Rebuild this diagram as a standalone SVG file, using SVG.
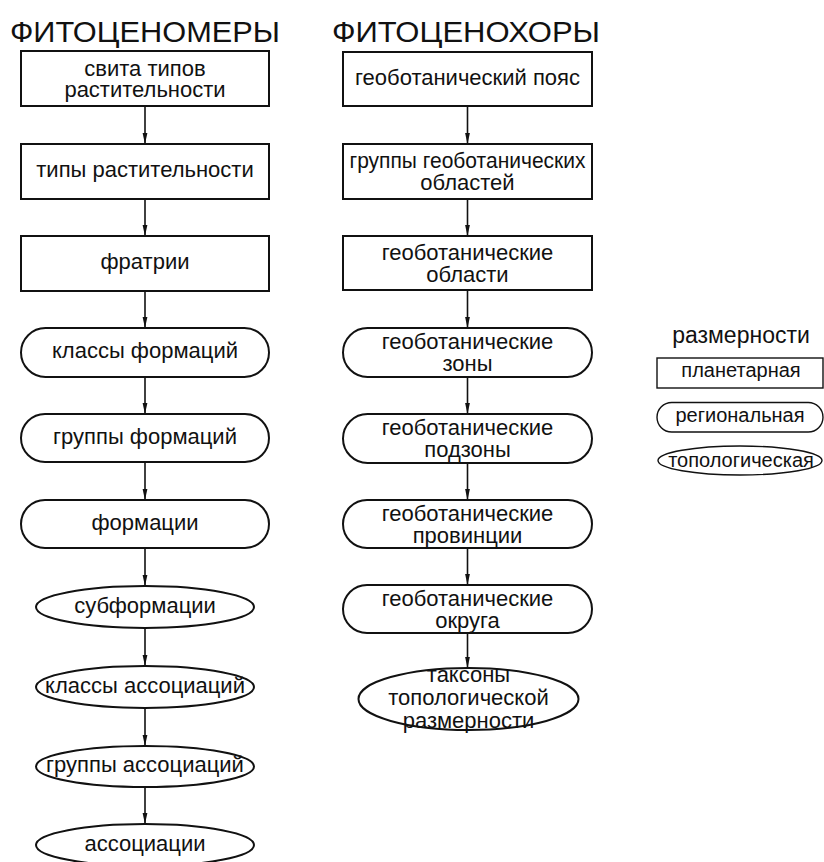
<svg xmlns="http://www.w3.org/2000/svg" width="824" height="862" viewBox="0 0 824 862">
<style>
text{font-family:"Liberation Sans",Arial,sans-serif;fill:#111;text-anchor:middle}
.n{font-size:22px}
.h{font-size:30px;text-anchor:start}
.lg{font-size:20px}
.s{fill:#fff;stroke:#111;stroke-width:2}
.sl{fill:#fff;stroke:#111;stroke-width:1.4}
.c{stroke:#111;stroke-width:1.6;fill:none;marker-end:url(#ah)}
</style>
<defs>
<marker id="ah" markerUnits="userSpaceOnUse" markerWidth="11" markerHeight="6" refX="11" refY="3" orient="auto" viewBox="0 0 11 6">
<path d="M0,0.6 L11,3 L0,5.4 Z" fill="#111"/>
</marker>
</defs>
<rect width="824" height="862" fill="#fff"/>
<text class="h" x="10" y="42" textLength="270" lengthAdjust="spacingAndGlyphs">ФИТОЦЕНОМЕРЫ</text>
<text class="h" x="332" y="42" textLength="268" lengthAdjust="spacingAndGlyphs">ФИТОЦЕНОХОРЫ</text>

<g id="connectors">
<line class="c" x1="145" y1="106" x2="145" y2="144"/>
<line class="c" x1="145" y1="199" x2="145" y2="236"/>
<line class="c" x1="145" y1="291" x2="145" y2="328"/>
<line class="c" x1="145" y1="377" x2="145" y2="414"/>
<line class="c" x1="145" y1="462" x2="145" y2="500"/>
<line class="c" x1="145" y1="548" x2="145" y2="586"/>
<line class="c" x1="145" y1="628" x2="145" y2="666"/>
<line class="c" x1="145" y1="708" x2="145" y2="746"/>
<line class="c" x1="145" y1="787" x2="145" y2="824"/>
<line class="c" x1="467.5" y1="106" x2="467.5" y2="144"/>
<line class="c" x1="467.5" y1="199" x2="467.5" y2="236"/>
<line class="c" x1="467.5" y1="290" x2="467.5" y2="328"/>
<line class="c" x1="467.5" y1="377" x2="467.5" y2="414"/>
<line class="c" x1="467.5" y1="463" x2="467.5" y2="500"/>
<line class="c" x1="467.5" y1="548" x2="467.5" y2="585"/>
<line class="c" x1="467.5" y1="633" x2="467.5" y2="668"/>
</g>

<g id="l1"><rect class="s" x="21" y="51" width="248" height="55"/><text class="n" x="145" y="76">свита типов</text><text class="n" x="145" y="97">растительности</text></g>
<g id="l2"><rect class="s" x="21" y="144" width="248" height="55"/><text class="n" x="145" y="177">типы растительности</text></g>
<g id="l3"><rect class="s" x="21" y="236" width="248" height="55"/><text class="n" x="145" y="269">фратрии</text></g>
<g id="l4"><rect class="s" x="21" y="328" width="248" height="49" rx="24.5"/><text class="n" x="145" y="358">классы формаций</text></g>
<g id="l5"><rect class="s" x="21" y="414" width="248" height="48" rx="24"/><text class="n" x="145" y="444">группы формаций</text></g>
<g id="l6"><rect class="s" x="21" y="500" width="248" height="48" rx="24"/><text class="n" x="145" y="530">формации</text></g>
<g id="l7"><ellipse class="s" cx="145" cy="607" rx="109" ry="21"/><text class="n" x="145" y="613">субформации</text></g>
<g id="l8"><ellipse class="s" cx="145" cy="687" rx="109" ry="21"/><text class="n" x="145" y="693">классы ассоциаций</text></g>
<g id="l9"><ellipse class="s" cx="145" cy="766.5" rx="109" ry="20.5"/><text class="n" x="145" y="772">группы ассоциаций</text></g>
<g id="l10"><ellipse class="s" cx="145" cy="845" rx="109" ry="21"/><text class="n" x="145" y="851">ассоциации</text></g>

<g id="r1"><rect class="s" x="343" y="52" width="249" height="54"/><text class="n" x="467.5" y="85">геоботанический пояс</text></g>
<g id="r2"><rect class="s" x="343" y="144" width="249" height="55"/><text class="n" x="467.5" y="168" textLength="236" lengthAdjust="spacingAndGlyphs">группы геоботанических</text><text class="n" x="467.5" y="190">областей</text></g>
<g id="r3"><rect class="s" x="343" y="236" width="249" height="54"/><text class="n" x="467.5" y="260">геоботанические</text><text class="n" x="467.5" y="282">области</text></g>
<g id="r4"><rect class="s" x="343" y="328" width="249" height="49" rx="24.5"/><text class="n" x="467.5" y="349">геоботанические</text><text class="n" x="467.5" y="371">зоны</text></g>
<g id="r5"><rect class="s" x="343" y="414" width="249" height="49" rx="24.5"/><text class="n" x="467.5" y="435">геоботанические</text><text class="n" x="467.5" y="457">подзоны</text></g>
<g id="r6"><rect class="s" x="343" y="500" width="249" height="48" rx="24"/><text class="n" x="467.5" y="521">геоботанические</text><text class="n" x="467.5" y="543">провинции</text></g>
<g id="r7"><rect class="s" x="343" y="585" width="249" height="48" rx="24"/><text class="n" x="467.5" y="606">геоботанические</text><text class="n" x="467.5" y="628">округа</text></g>
<g id="r8"><ellipse class="s" cx="468.5" cy="699" rx="110" ry="31"/><text class="n" x="468.5" y="682">таксоны</text><text class="n" x="468.5" y="705">топологической</text><text class="n" x="468.5" y="728">размерности</text></g>

<g id="legend">
<text x="741" y="343" style="font-size:23px">размерности</text>
<g id="lg1"><rect class="sl" x="657" y="358" width="166" height="30"/><text class="lg" x="741" y="377">планетарная</text></g>
<g id="lg2"><rect class="sl" x="657" y="402.5" width="166" height="29.5" rx="14.75"/><text class="lg" x="740" y="422">региональная</text></g>
<g id="lg3"><ellipse class="sl" cx="740" cy="460.5" rx="82" ry="14.5"/><text class="lg" x="741" y="467">топологическая</text></g>
</g>
</svg>
